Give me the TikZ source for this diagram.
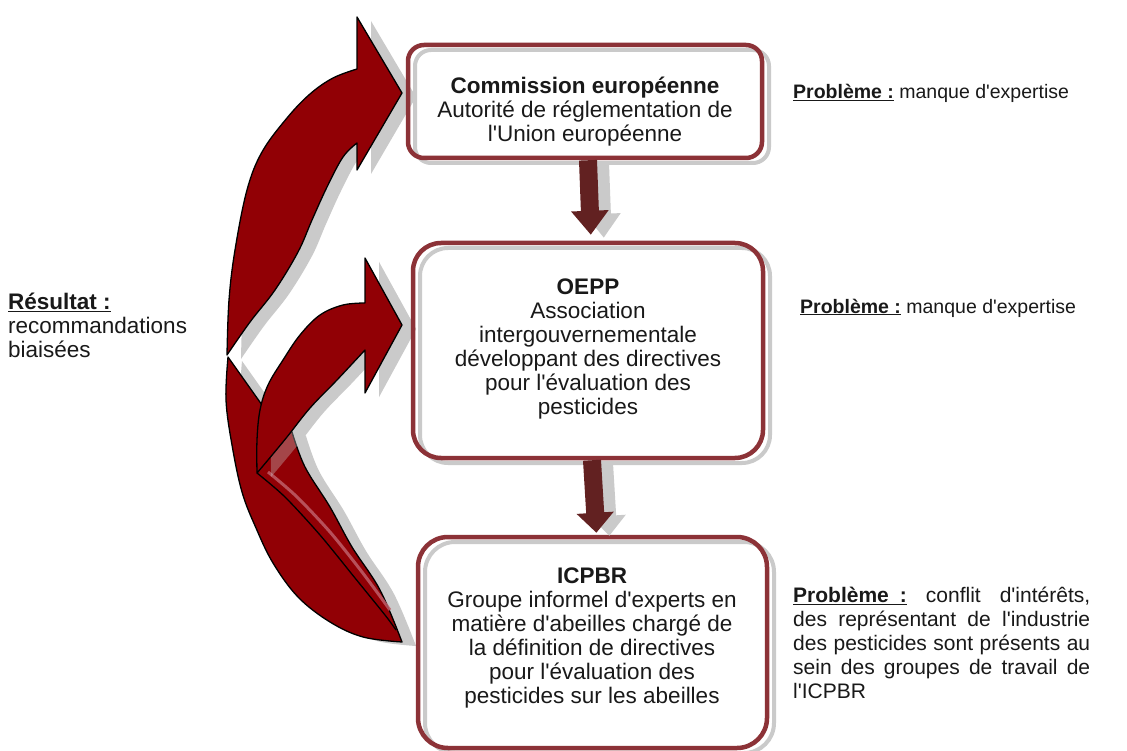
\documentclass[tikz,border=0pt]{standalone}
\usepackage{fontspec}
\setmainfont{Liberation Sans}[Ligatures=TeXOff]
\usetikzlibrary{arrows.meta}
\definecolor{boxred}{RGB}{140,50,55}
\definecolor{shgray}{RGB}{202,202,202}
\definecolor{arrred}{RGB}{145,0,5}
\definecolor{arrbrown}{RGB}{98,33,33}
\definecolor{txt}{RGB}{25,25,25}
\definecolor{pinkhl}{RGB}{190,95,105}
\begin{document}
\begin{tikzpicture}[x=1pt,y=-1pt,
  box/.style={draw=boxred, line width=4.5pt, rounded corners=#1, inner sep=0pt,
    preaction={draw=shgray, line width=4pt, transform canvas={xshift=7pt,yshift=-5pt}}},
  box/.default=18pt,
  boxtext/.style={font=\fontsize{22.5}{24}\selectfont, text=txt, align=center, inner sep=0pt},
  side/.style={font=\fontsize{19.5}{24}\selectfont, text=txt, inner sep=0pt},
  redshape/.style={fill=arrred, draw=black, line width=1.3pt, line join=round},
  shade/.style={fill=shgray},
  varrow/.style={draw=arrbrown, line width=18pt, -{Triangle[width=36pt,length=#1]}},
  varrow/.default=24pt,
  varrowsh/.style={draw=shgray, line width=16pt, -{Triangle[width=34pt,length=#1]}},
  varrowsh/.default=24pt,
  shapeA/.style={insert path={plot[smooth,tension=0.6] coordinates {(227,355) (229,300) (235,250) (247,190) (262,152) (287,118) (310,94) (333,78) (357,69)} -- (357,17) -- (402,93) -- (357,170) -- (357,143) -- plot[smooth,tension=0.6] coordinates {(357,143) (343,157) (327,187) (312,220) (298,252) (275,290) (250,322) (227,355)} -- cycle}},
  shapeB/.style={insert path={plot[smooth,tension=0.6] coordinates {(257,473) (257,440) (260,410) (268,385) (283,360) (300,335) (320,315) (343,305) (365,303)} -- (365,258) -- (402,325) -- (365,393) -- (365,350) -- plot[smooth,tension=0.6] coordinates {(365,350) (337,380) (310,408) (287,437) (268,460) (257,473)} -- cycle}},
  shapeC/.style={insert path={(228,357) -- (262,405) -- plot[smooth,tension=0.6] coordinates {(292,432) (305,467) (330,507) (352,547) (380,590) (402,642)} -- plot[smooth,tension=0.6] coordinates {(402,642) (363,637) (330,622) (298,597) (273,563) (256,528) (242,492) (232,445) (226,400) (228,357)} -- cycle}}
]
\useasboundingbox (0,0) rectangle (1127,751);
\fill[white] (0,0) rectangle (1127,751);

% shadows of curved arrows
\begin{scope}[shift={(14,4)}]
  \fill[shade, shapeC];
  \fill[shade, shapeA];
  \fill[shade, shapeB];
\end{scope}
% curved arrows
\path[redshape, shapeC];
\draw[pinkhl, line width=3pt, opacity=0.85] plot[smooth] coordinates {(268,472) (296,496) (330,532) (362,572) (390,610)};
\draw[black, line width=1.3pt] plot[smooth] coordinates {(257,473) (285,497) (320,535) (355,578) (385,615) (396,630)};
\begin{scope}[shift={(14,4)}]
  \fill[shade, opacity=0.35, shapeB];
\end{scope}
\path[redshape, shapeB];
\path[redshape, shapeA];

% boxes
\node[box=16pt, minimum width=354pt, minimum height=113pt] (b1) at (585,101.5) {};
\node[box=28pt, minimum width=350pt, minimum height=215pt] (b2) at (588,350.5) {};
\node[box=30pt, minimum width=349pt, minimum height=211pt] (b3) at (592.5,642.5) {};

% vertical arrows
\begin{scope}[transform canvas={xshift=13pt,yshift=-3pt}]
  \draw[varrowsh, shorten >=6pt] ([xshift=3pt]b1.south) -- ([xshift=3pt]b2.north);
  \draw[varrowsh=20pt, shorten >=2pt] ([xshift=4pt]b2.south) -- ([xshift=4pt]b3.north);
\end{scope}
\draw[varrow, shorten >=6pt] ([xshift=3pt]b1.south) -- ([xshift=3pt]b2.north);
\draw[varrow=20pt, shorten >=2pt] ([xshift=4pt]b2.south) -- ([xshift=4pt]b3.north);

% box texts
\node[boxtext] (t1) at (585,112) {\textbf{Commission européenne}\\Autorité de réglementation de\\l'Union européenne};
\node[boxtext] (t2) at (588,349) {\textbf{OEPP}\\Association\\intergouvernementale\\développant des directives\\pour l'évaluation des\\pesticides};
\node[boxtext] (t3) at (592,638) {\textbf{ICPBR}\\Groupe informel d'experts en\\matière d'abeilles chargé de\\la définition de directives\\pour l'évaluation des\\pesticides sur les abeilles};

% side texts
\node[side, anchor=base west] (p1) at (793,99) {\underline{\textbf{Problème :}} manque d'expertise};
\node[side, anchor=base west] (p2) at (800,313) {\underline{\textbf{Problème :}} manque d'expertise};
\node[side, font=\fontsize{21}{24}\selectfont, anchor=north west, align=left] (p3) at (793,587) {%
\makebox[297pt][s]{\underline{\textbf{Problème\hspace{11pt}:}} conflit d'intérêts,}\\
\makebox[297pt][s]{des représentant de l'industrie}\\
\makebox[297pt][s]{des pesticides sont présents au}\\
\makebox[297pt][s]{sein des groupes de travail de}\\
l'ICPBR};
\node[side, font=\fontsize{22.5}{24}\selectfont, anchor=north west, align=left] (res) at (8,293) {\underline{\textbf{Résultat :}}\\recommandations\\biaisées};
\end{tikzpicture}
\end{document}
